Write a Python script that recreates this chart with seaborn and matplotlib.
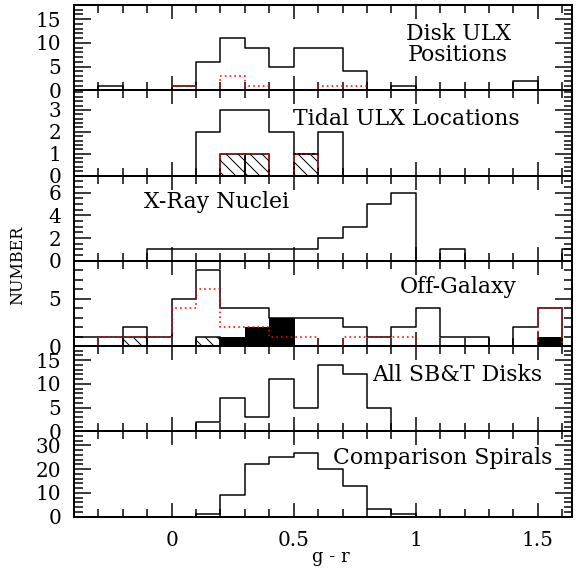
import numpy as np
import matplotlib
matplotlib.use("Agg")
import matplotlib.pyplot as plt
import seaborn as sns
from matplotlib.ticker import MultipleLocator, FuncFormatter

# ---- data (g - r colour bins, width 0.1) ----
bin_edges = [-0.4, -0.3, -0.2, -0.1, 0.0, 0.1, 0.2, 0.3, 0.4, 0.5, 0.6,
             0.7, 0.8, 0.9, 1.0, 1.1, 1.2, 1.3, 1.4, 1.5, 1.6, 1.7]

disk_all = [0, 1, 0, 0, 1, 6, 11, 9, 5, 9, 9, 4, 0, 1, 0, 0, 0, 0, 2, 0, 0]
disk_red = [0, 0, 0, 0, 1, 0, 3, 1, 0, 0, 1, 1, 0, 0, 0, 0, 0, 0, 0, 0, 0]

tidal_all = [0, 0, 0, 0, 0, 2, 3, 3, 2, 1, 2, 0, 0, 0, 0, 0, 0, 0, 0, 0, 0]
tidal_hatch = [0, 0, 0, 0, 0, 0, 1, 1, 0, 1, 0, 0, 0, 0, 0, 0, 0, 0, 0, 0, 0]

xray_all = [0, 0, 0, 1, 1, 1, 1, 1, 1, 1, 2, 3, 5, 6, 0, 1, 0, 0, 0, 0, 1]

offgal_all = [1, 1, 2, 1, 5, 8, 4, 4, 3, 3, 3, 2, 1, 2, 4, 1, 1, 0, 2, 4, 0]
offgal_red = [0, 1, 1, 1, 4, 6, 2, 2, 1, 1, 0, 1, 1, 1, 0, 0, 0, 0, 0, 4, 0]
offgal_hatch = [0, 0, 1, 0, 0, 1, 0, 0, 0, 0, 0, 0, 0, 0, 0, 0, 0, 0, 0, 0, 0]
offgal_solid = [0, 0, 0, 0, 0, 0, 1, 2, 3, 0, 0, 0, 0, 0, 0, 0, 0, 0, 0, 1, 0]

sbt_all = [0, 0, 0, 0, 0, 2, 7, 3, 11, 5, 14, 12, 5, 0, 0, 0, 0, 0, 0, 0, 0]
comp_all = [0, 0, 0, 0, 0, 1, 9, 22, 25, 27, 20, 13, 3, 1, 0, 0, 0, 0, 0, 0, 0]

panel_labels = ["Disk ULX\nPositions", "Tidal ULX Locations", "X-Ray Nuclei",
                "Off-Galaxy", "All SB&T Disks", "Comparison Spirals"]
y_limits = [18, 3.9, 7.5, 9, 18, 36]
y_major = [5, 1, 2, 5, 5, 10]
y_minor = [1, 0.2, 0.5, 1, 1, 2]

# ---- style ----
sns.set_theme(style="white")
plt.rcParams['font.family'] = ['DejaVu Serif', 'DejaVu Sans']
plt.rcParams['hatch.linewidth'] = 1.0
plt.rcParams['hatch.color'] = 'black'

W, H, DPI = 583, 572, 72
fig, axes = plt.subplots(6, 1, figsize=(W / DPI, H / DPI), dpi=DPI, sharex=True)
fig.subplots_adjust(left=74 / W, right=572 / W, top=1 - 5 / H,
                    bottom=1 - 516.5 / H, hspace=0)

edges = np.array(bin_edges)
centers = (edges[:-1] + edges[1:]) / 2
lefts = edges[:-1]
widths = np.diff(edges)


def step(ax, counts, **kw):
    sns.histplot(x=centers, weights=counts, bins=bin_edges, element="step",
                 fill=False, ax=ax, **kw)


def boxes(ax, counts, **kw):
    c = np.array(counts)
    m = c > 0
    ax.bar(lefts[m], c[m], width=widths[m], align='edge', **kw)


black_kw = dict(color='black', linewidth=1.5)
red_kw = dict(color='red', linewidth=1.6, linestyle=(0, (1, 2)))

# Panel 1
step(axes[0], disk_all, **black_kw)
step(axes[0], disk_red, **red_kw)
# Panel 2
step(axes[1], tidal_all, **black_kw)
boxes(axes[1], tidal_hatch, facecolor='none', edgecolor='black', hatch='\\\\',
      linewidth=1.5)
step(axes[1], tidal_hatch, **red_kw)
# Panel 3
step(axes[2], xray_all, **black_kw)
# Panel 4
boxes(axes[3], offgal_solid, facecolor='black', edgecolor='black', linewidth=1.0)
boxes(axes[3], offgal_hatch, facecolor='none', edgecolor='black', hatch='\\\\',
      linewidth=1.5)
step(axes[3], offgal_all, **black_kw)
step(axes[3], offgal_red, **red_kw)
# Panel 5
step(axes[4], sbt_all, **black_kw)
# Panel 6
step(axes[5], comp_all, **black_kw)

for i, ax in enumerate(axes):
    ax.set_xlim(-0.4, 1.64)
    ax.set_ylim(0, y_limits[i])
    ax.set_xlabel("")
    ax.set_ylabel("")
    ax.xaxis.set_major_locator(MultipleLocator(0.5))
    ax.xaxis.set_minor_locator(MultipleLocator(0.1))
    ax.yaxis.set_major_locator(MultipleLocator(y_major[i]))
    ax.yaxis.set_minor_locator(MultipleLocator(y_minor[i]))
    ax.tick_params(axis='both', which='both', direction='in', top=True,
                   right=True, bottom=True, left=True, width=1.5, color='black',
                   labelsize=20, labelcolor='black')
    ax.tick_params(axis='y', which='major', length=17, pad=13)
    ax.tick_params(axis='y', which='minor', length=8.5)
    ax.tick_params(axis='x', which='major', length=14, pad=14)
    ax.tick_params(axis='x', which='minor', length=8)
    for sp in ax.spines.values():
        sp.set_linewidth(2)
        sp.set_color('black')
    ax.set_facecolor('white')
    ax.yaxis.set_major_formatter(FuncFormatter(lambda v, p: f"{v:g}"))

axes[-1].xaxis.set_major_formatter(FuncFormatter(lambda v, p: f"{v:g}"))

# Panel labels (figure pixel positions)
label_pos = [(458, 61), (406, 125), (217, 208), (458, 293), (457, 381), (443, 464)]
for (x, y), s in zip(label_pos, panel_labels):
    fig.text(x / W, 1 - y / H, s, ha='center', va='baseline', fontsize=22,
             color='black', linespacing=0.95)

fig.text(18 / W, 1 - 265 / H, "NUMBER", rotation=90, ha='center', va='center',
         fontsize=16, color='black')
fig.text(331 / W, 1 - 557 / H, "g - r", ha='center', va='center', fontsize=18,
         color='black')

fig.savefig("out.png", dpi=DPI, facecolor='white')
